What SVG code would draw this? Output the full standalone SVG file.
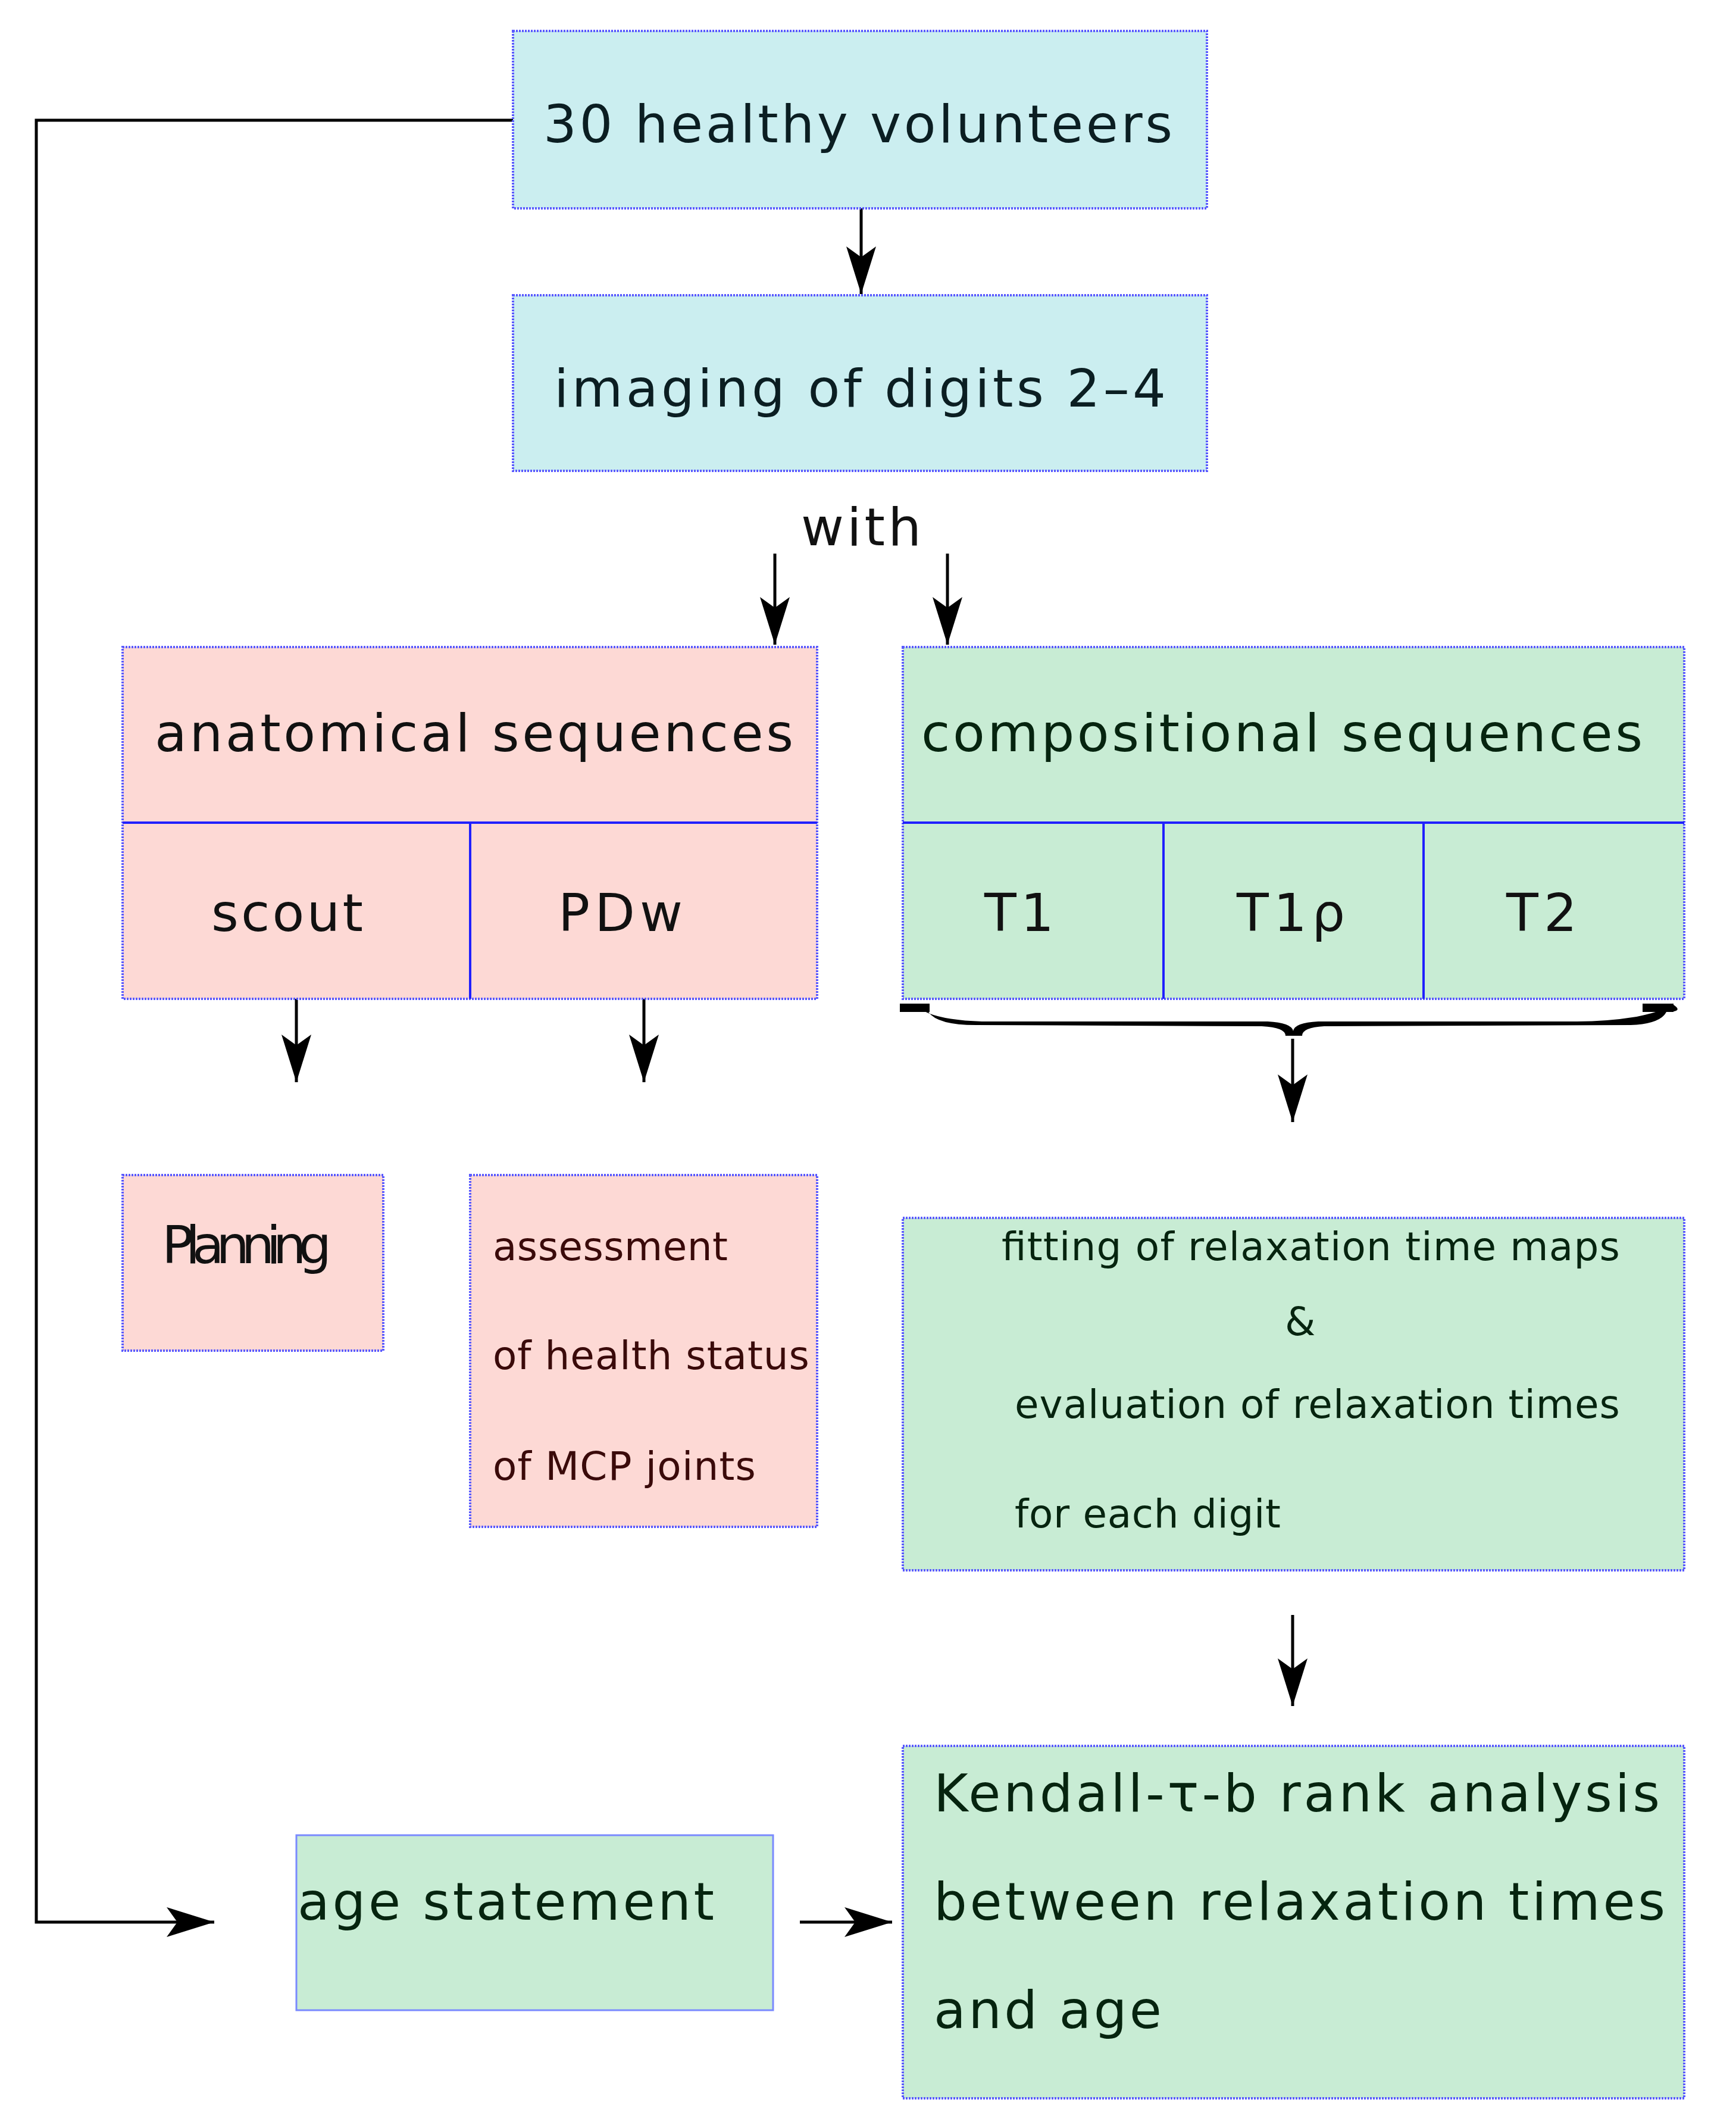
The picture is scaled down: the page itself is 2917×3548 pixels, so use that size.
<svg xmlns="http://www.w3.org/2000/svg" width="2917" height="3548" viewBox="0 0 2917 3548">
<defs>
<style>
.b{stroke:#5a5aff;stroke-width:4;stroke-dasharray:3 2}
.blue{fill:#cbeef0}.pink{fill:#fdd9d5}.green{fill:#c8ecd4}
.d{stroke:#2020ff;stroke-width:4;fill:none}
text{font-family:"DejaVu Sans","Liberation Sans",sans-serif}
.tb{fill:#0b1e22;font-size:88px}
.tp{fill:#111;font-size:88px}
.ts{fill:#3a0a0a;font-size:66px}
.tg{fill:#06240f;font-size:66px}
.tk{fill:#06240f;font-size:88px}
.c{stroke:#000;stroke-width:5;fill:none}
</style>
<marker id="a" markerUnits="userSpaceOnUse" markerWidth="90" markerHeight="60" refX="80" refY="25" orient="auto" viewBox="0 0 90 50">
<path d="M80,25 L0,0 L18,25 L0,50 Z" fill="#000"/>
</marker>
</defs>
<g id="connectors">
<path class="c" d="M862,202 H61 V3229 H360" marker-end="url(#a)"/>
<path class="c" d="M1447,350 V494" marker-end="url(#a)"/>
<path class="c" d="M1302,930 V1083" marker-end="url(#a)"/>
<path class="c" d="M1592,930 V1083" marker-end="url(#a)"/>
<path class="c" d="M498,1678 V1818" marker-end="url(#a)"/>
<path class="c" d="M1082,1678 V1818" marker-end="url(#a)"/>
<path class="c" d="M2172,1745 V1885" marker-end="url(#a)"/>
<path class="c" d="M2172,2713 V2866" marker-end="url(#a)"/>
<path class="c" d="M1344,3229 H1499" marker-end="url(#a)"/>
<path d="M1512,1688 Q1515,1700 1560,1700 Q1575,1722 1640,1722 L2120,1724 Q2160,1726 2160,1740 L2188,1740 Q2188,1726 2225,1724 L2740,1722 Q2790,1720 2800,1700 Q2830,1700 2812,1688 Q2790,1700 2750,1708 Q2700,1716 2650,1716 L2215,1716 Q2175,1718 2173,1732 Q2170,1718 2130,1716 L1650,1716 Q1590,1714 1560,1702 Q1540,1692 1512,1688 Z" fill="#000"/>
<path d="M1512,1686 h50 v14 h-50 z M2760,1686 h52 v14 h-52 z" fill="#000"/>
</g>
<g id="n1"><rect class="b blue" x="862" y="52" width="1166" height="298"/><text class="tb" x="913" y="239" textLength="1057">30 healthy volunteers</text></g>
<g id="n2"><rect class="b blue" x="862" y="496" width="1166" height="295"/><text class="tb" x="931" y="683" textLength="1028">imaging of digits 2–4</text></g>
<g id="with"><text class="tp" x="1346" y="916" textLength="202">with</text></g>
<g id="anat">
<rect class="b pink" x="206" y="1087" width="1167" height="591"/>
<path class="d" d="M206,1382 H1373 M790,1382 V1678"/>
<text class="tp" x="260" y="1262" textLength="1073">anatomical sequences</text>
<text class="tp" x="355" y="1564" textLength="255">scout</text>
<text class="tp" x="938" y="1564" textLength="209">PDw</text>
</g>
<g id="comp">
<rect class="b green" x="1517" y="1087" width="1313" height="591"/>
<path class="d" d="M1517,1382 H2830 M1955,1382 V1678 M2392,1382 V1678"/>
<text class="tk" x="1548" y="1262" textLength="1212">compositional sequences</text>
<text class="tp" x="1654" y="1564" textLength="117">T1</text>
<text class="tp" x="2078" y="1564" textLength="182">T1ρ</text>
<text class="tp" x="2531" y="1564" textLength="119">T2</text>
</g>
<g id="planning"><rect class="b pink" x="206" y="1974" width="438" height="295"/><text class="tp" x="272" y="2122" font-size="68" textLength="285">Planning</text></g>
<g id="assess"><rect class="b pink" x="790" y="1974" width="583" height="591"/>
<text class="ts" x="828" y="2117" textLength="395">assessment</text>
<text class="ts" x="828" y="2300" textLength="532">of health status</text>
<text class="ts" x="828" y="2486" textLength="442">of MCP joints</text></g>
<g id="fit"><rect class="b green" x="1517" y="2046" width="1313" height="592"/>
<text class="tg" x="1683" y="2117" textLength="1039">fitting of relaxation time maps</text>
<text class="tg" x="2159" y="2243">&amp;</text>
<text class="tg" x="1705" y="2382" textLength="1017">evaluation of relaxation times</text>
<text class="tg" x="1705" y="2566" textLength="447">for each digit</text></g>
<g id="kendall"><rect class="b green" x="1517" y="2933" width="1313" height="592"/>
<text class="tk" x="1569" y="3043" textLength="1220">Kendall-τ-b rank analysis</text>
<text class="tk" x="1569" y="3225" textLength="1229">between relaxation times</text>
<text class="tk" x="1569" y="3407" textLength="383">and age</text></g>
<g id="age"><rect class="green" x="498" y="3083" width="801" height="294" stroke="#7a8aff" stroke-width="3"/>
<text class="tk" x="500" y="3225" textLength="700">age statement</text></g>
</svg>
